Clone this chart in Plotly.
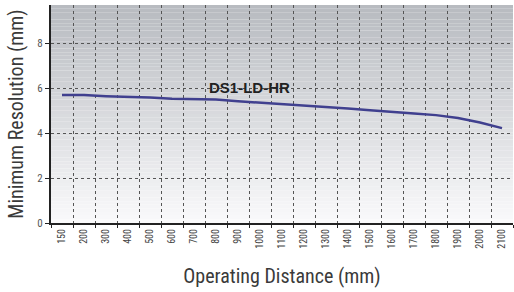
import plotly.graph_objects as go

distances = ["150", "200", "300", "400", "500", "600", "700", "800", "900", "1000",
             "1100", "1200", "1300", "1400", "1500", "1600", "1700", "1800", "1900",
             "2000", "2100"]
resolution = [5.69, 5.69, 5.64, 5.62, 5.58, 5.53, 5.51, 5.49, 5.42, 5.36,
              5.29, 5.22, 5.16, 5.09, 5.02, 4.96, 4.87, 4.80, 4.67, 4.47, 4.22]
y_ticks = [0, 2, 4, 6, 8]
series_name = "DS1-LD-HR"

NARROW = "Liberation Sans Narrow, Roboto Condensed, Arial Narrow, sans-serif"

fig = go.Figure()
fig.add_trace(go.Scatter(
    x=distances, y=resolution, mode="lines",
    line=dict(color="#40408f", width=2.5), name=series_name,
    showlegend=False, hoverinfo="skip",
))

# vertical gradient background (bluish gray at top -> white at bottom)
n = 60
shapes = []
top = (184, 187, 192)
bot = (250, 250, 251)
for i in range(n):
    t = i / (n - 1)
    r, g, b = (int(top[k] + (bot[k] - top[k]) * t) for k in range(3))
    shapes.append(dict(
        type="rect", xref="paper", yref="paper",
        x0=0, x1=1, y0=1 - (i + 1) / n, y1=1 - i / n,
        fillcolor=f"rgb({r},{g},{b})", line=dict(width=0), layer="below",
    ))

fig.update_layout(
    width=514, height=292,
    margin=dict(l=51, r=1, t=5, b=69),
    paper_bgcolor="white", plot_bgcolor="white",
    shapes=shapes,
    font=dict(family="Liberation Sans, Arial, sans-serif", color="#444"),
    annotations=[dict(
        x=8.5, y=6.04, xref="x", yref="y", text=f"<b>{series_name}</b>",
        showarrow=False, font=dict(size=15, color="#222",
                                   family="Liberation Sans, Arial, sans-serif"),
    )],
)

fig.update_xaxes(
    type="category", range=[-0.5, 20.5], tickson="boundaries",
    automargin=False,
    showgrid=True, gridcolor="#555", griddash="dot", gridwidth=1,
    showline=True, linecolor="#222", linewidth=2,
    ticks="outside", ticklen=3, tickcolor="#222",
    tickangle=-90, tickfont=dict(size=10, color="#444", family=NARROW),
    title=dict(text="Operating Distance (mm)", standoff=21,
               font=dict(size=20, color="#3a3a3a", family=NARROW)),
)
fig.update_yaxes(
    range=[0, 9.7], tickvals=y_ticks, automargin=False,
    showgrid=True, gridcolor="#555", griddash="dot", gridwidth=1,
    showline=True, linecolor="#222", linewidth=2, zeroline=False,
    ticks="outside", ticklen=4, tickcolor="#222",
    tickfont=dict(size=11, color="#555", family=NARROW),
    title=dict(text="Minimum Resolution (mm)", standoff=8,
               font=dict(size=20, color="#3a3a3a", family=NARROW)),
)

fig.write_html("out.html", config={"displayModeBar": False},
               post_script="document.body.style.margin='0';")
